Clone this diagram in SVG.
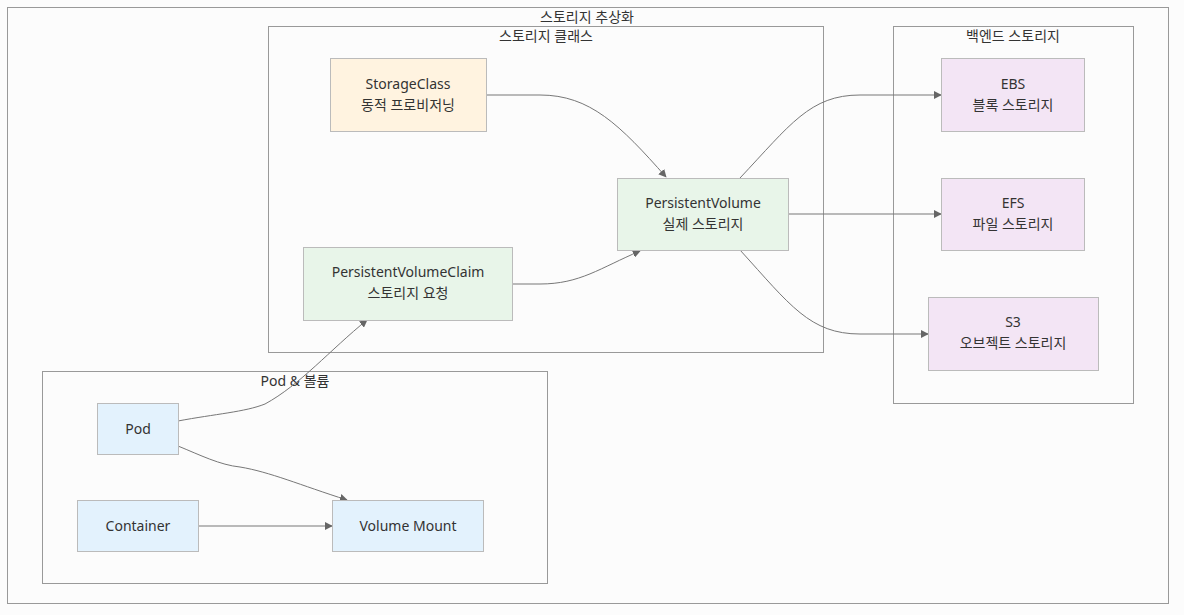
<svg xmlns="http://www.w3.org/2000/svg" width="1184" height="615" viewBox="0 0 1184 615">
<style>
text{font-family:"Noto Sans","Noto Sans CJK KR",sans-serif;font-size:14px;fill:#333;text-anchor:middle}
.cl{fill:none;stroke:#999;stroke-width:1}
.n rect{stroke:#bbb;stroke-width:1}
.o rect{fill:#fff3e0}.g rect{fill:#e8f5e9}.p rect{fill:#f3e5f5}.b rect{fill:#e3f2fd}
.e{fill:none;stroke:#777;stroke-width:1;marker-end:url(#ah)}
</style>
<defs><marker id="ah" viewBox="0 0 10 10" refX="9" refY="5" markerWidth="8" markerHeight="8" markerUnits="userSpaceOnUse" orient="auto"><path d="M0,0L10,5L0,10z" fill="#666"/></marker></defs>
<rect width="1184" height="615" fill="#fcfcfc"/>
<g id="clusters">
<rect class="cl" x="7.5" y="7.5" width="1161" height="596"/>
<text x="587" y="22">스토리지 추상화</text>
<rect class="cl" x="268.5" y="26.5" width="555" height="326"/>
<text x="546" y="41">스토리지 클래스</text>
<rect class="cl" x="893.5" y="26.5" width="240" height="377"/>
<text x="1013" y="41">백엔드 스토리지</text>
<rect class="cl" x="42.5" y="371.5" width="505" height="212"/>
<text x="295" y="386">Pod &amp; 볼륨</text>
</g>
<g id="connectors">
<path class="e" d="M486,95 L540,95 C590,95 620,125 666,177"/>
<path class="e" d="M512,284 L540,284 C580,284 600,268 640,251"/>
<path class="e" d="M740,178 C790,125 810,95 860,95 L941,95"/>
<path class="e" d="M788,214 L941,214"/>
<path class="e" d="M740,250 C790,305 810,334 860,334 L928,334"/>
<path class="e" d="M178,421 C215,414 245,412 265,404 C300,385 330,350 367,320"/>
<path class="e" d="M178,446 C200,455 220,465 240,467 C270,472 300,485 347,500"/>
<path class="e" d="M198,526 L332,526"/>
</g>
<g id="StorageClass" class="n o"><rect x="330.5" y="58.5" width="156" height="73"/><text x="408" y="89">StorageClass</text><text x="408" y="110">동적 프로비저닝</text></g>
<g id="PersistentVolume" class="n g"><rect x="617.5" y="178.5" width="171" height="72"/><text x="703" y="208">PersistentVolume</text><text x="703" y="229">실제 스토리지</text></g>
<g id="PersistentVolumeClaim" class="n g"><rect x="303.5" y="247.5" width="209" height="73"/><text x="408" y="277">PersistentVolumeClaim</text><text x="408" y="298">스토리지 요청</text></g>
<g id="EBS" class="n p"><rect x="941.5" y="58.5" width="143" height="73"/><text x="1013" y="89">EBS</text><text x="1013" y="110">블록 스토리지</text></g>
<g id="EFS" class="n p"><rect x="941.5" y="178.5" width="143" height="72"/><text x="1013" y="208">EFS</text><text x="1013" y="229">파일 스토리지</text></g>
<g id="S3" class="n p"><rect x="928.5" y="297.5" width="170" height="73"/><text x="1013" y="327">S3</text><text x="1013" y="348">오브젝트 스토리지</text></g>
<g id="Pod" class="n b"><rect x="97.5" y="403.5" width="81" height="51"/><text x="138" y="434">Pod</text></g>
<g id="Container" class="n b"><rect x="77.5" y="500.5" width="121" height="51"/><text x="138" y="531">Container</text></g>
<g id="VolumeMount" class="n b"><rect x="332.5" y="500.5" width="151" height="51"/><text x="408" y="531">Volume Mount</text></g>
</svg>
